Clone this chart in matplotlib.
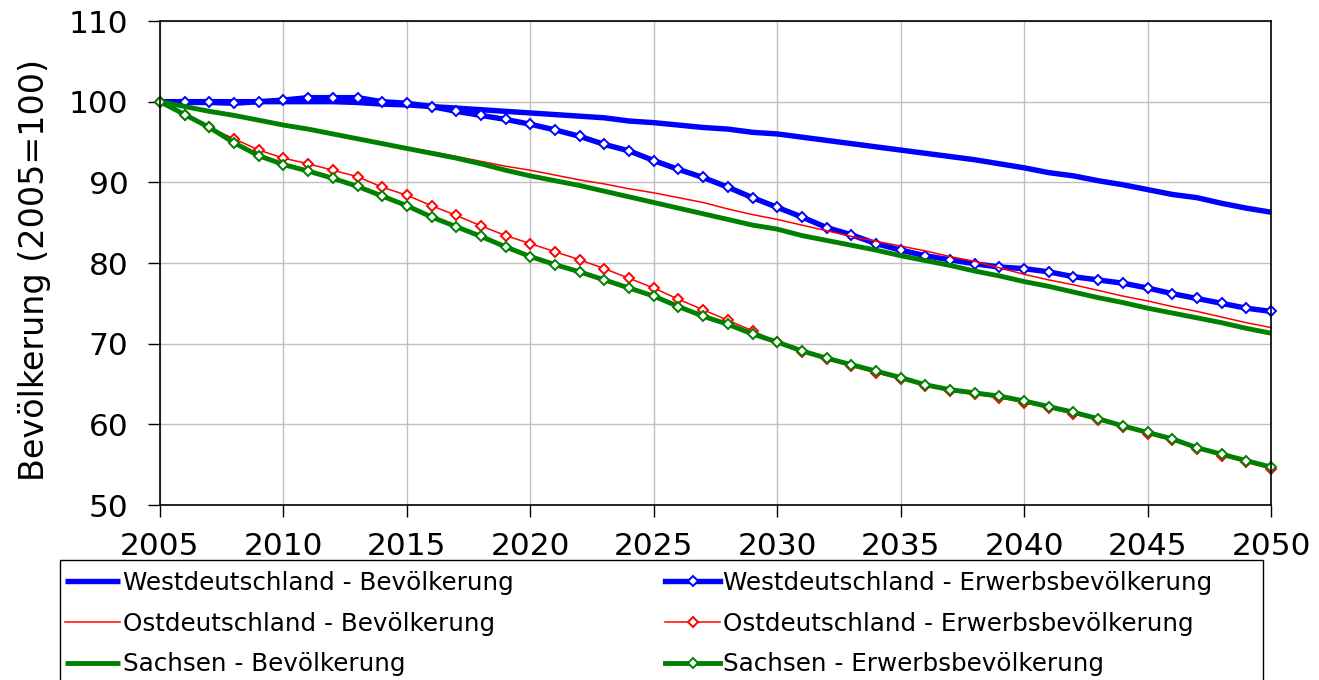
import matplotlib
matplotlib.use("Agg")
import matplotlib.pyplot as plt
from matplotlib.patches import Rectangle

plt.rcParams['font.family'] = ['DejaVu Sans']

years = list(range(2005, 2051))

west_bev = [100.0, 100.0, 100.0, 100.0, 100.0, 100.0, 100.0, 100.0, 99.9, 99.7,
            99.6, 99.4, 99.2, 99.0, 98.8, 98.6, 98.4, 98.2, 98.0, 97.6,
            97.4, 97.1, 96.8, 96.6, 96.2, 96.0, 95.6, 95.2, 94.8, 94.4,
            94.0, 93.6, 93.2, 92.8, 92.3, 91.8, 91.2, 90.8, 90.2, 89.7,
            89.1, 88.5, 88.1, 87.4, 86.8, 86.3]
west_erw = [100.0, 99.9, 99.9, 99.8, 100.0, 100.2, 100.5, 100.5, 100.5, 100.0,
            99.8, 99.4, 98.8, 98.3, 97.8, 97.2, 96.5, 95.7, 94.7, 93.9,
            92.7, 91.6, 90.6, 89.4, 88.1, 86.9, 85.7, 84.4, 83.5, 82.4,
            81.6, 80.9, 80.4, 79.9, 79.5, 79.3, 78.9, 78.3, 77.9, 77.5,
            76.9, 76.2, 75.6, 75.0, 74.4, 74.0]
ost_bev = [100.0, 99.4, 98.8, 98.2, 97.7, 97.1, 96.5, 95.9, 95.4, 94.8,
           94.3, 93.8, 93.2, 92.6, 92.0, 91.5, 90.9, 90.3, 89.8, 89.2,
           88.7, 88.1, 87.5, 86.7, 86.0, 85.4, 84.7, 84.0, 83.3, 82.7,
           82.1, 81.5, 80.8, 80.2, 79.4, 78.6, 77.9, 77.3, 76.6, 75.9,
           75.3, 74.6, 74.0, 73.3, 72.6, 72.0]
ost_erw = [100.0, 98.4, 96.8, 95.4, 94.0, 93.0, 92.3, 91.5, 90.7, 89.4,
           88.4, 87.1, 85.9, 84.6, 83.4, 82.4, 81.4, 80.4, 79.3, 78.1,
           76.9, 75.5, 74.2, 72.9, 71.6, 70.2, 69.0, 68.1, 67.2, 66.4,
           65.6, 64.8, 64.1, 63.7, 63.3, 62.7, 62.0, 61.3, 60.5, 59.7,
           58.8, 58.0, 57.0, 56.1, 55.3, 54.5]
sachsen_bev = [100.0, 99.4, 98.8, 98.3, 97.7, 97.1, 96.6, 96.0, 95.4, 94.8,
               94.2, 93.6, 93.0, 92.3, 91.5, 90.8, 90.2, 89.6, 88.9, 88.2,
               87.5, 86.8, 86.1, 85.4, 84.7, 84.2, 83.4, 82.8, 82.2, 81.6,
               80.9, 80.3, 79.7, 79.0, 78.4, 77.7, 77.1, 76.4, 75.7, 75.1,
               74.4, 73.8, 73.2, 72.6, 71.9, 71.3]
sachsen_erw = [100.0, 98.4, 96.8, 94.9, 93.3, 92.2, 91.4, 90.5, 89.5, 88.3,
               87.1, 85.7, 84.5, 83.3, 82.0, 80.8, 79.8, 78.9, 77.9, 76.9,
               75.9, 74.6, 73.4, 72.4, 71.2, 70.2, 69.1, 68.2, 67.4, 66.6,
               65.8, 64.9, 64.3, 63.9, 63.5, 62.9, 62.2, 61.5, 60.7, 59.8,
               59.0, 58.2, 57.1, 56.3, 55.5, 54.7]

labels = ["Westdeutschland - Bevölkerung",
          "Westdeutschland - Erwerbsbevölkerung",
          "Ostdeutschland - Bevölkerung",
          "Ostdeutschland - Erwerbsbevölkerung",
          "Sachsen - Bevölkerung",
          "Sachsen - Erwerbsbevölkerung"]

W, H = 1319, 680
fig = plt.figure(figsize=(W / 100, H / 100), dpi=100)
ax = fig.add_axes([160 / W, 1 - 505 / H, (1271 - 160) / W, (505 - 21) / H])

mk = dict(marker='D', markersize=5.6, markerfacecolor='white', markeredgewidth=1.4)

l1, = ax.plot(years, west_bev, color='#0000FF', lw=3.9, label=labels[0], solid_capstyle='butt')
l2, = ax.plot(years, west_erw, color='#0000FF', lw=3.9, markeredgecolor='#0000FF', label=labels[1], **mk)
l3, = ax.plot(years, ost_bev, color='#FF0000', lw=1.1, label=labels[2])
l4, = ax.plot(years, ost_erw, color='#FF0000', lw=1.1, markeredgecolor='#FF0000', label=labels[3], **mk)
l5, = ax.plot(years, sachsen_bev, color='#008000', lw=3.5, label=labels[4], solid_capstyle='butt')
l6, = ax.plot(years, sachsen_erw, color='#008000', lw=3.5, markeredgecolor='#008000', label=labels[5], **mk)

for l in (l1, l2, l3, l4, l5, l6):
    l.set_clip_on(False)

ax.set_xlim(2005, 2050)
ax.set_ylim(50, 110)
ax.set_xticks(range(2005, 2051, 5))
ax.set_yticks(range(50, 111, 10))
ax.grid(True, color='#c0c0c0', lw=1.0)
ax.set_axisbelow(True)
for s in ax.spines.values():
    s.set_linewidth(1.2)
    s.set_color('black')
ax.tick_params(axis='both', direction='out', length=8.6, width=1.0, labelsize=22.5)
ax.tick_params(axis='y', pad=14)
ax.tick_params(axis='x', pad=10.5)

ax.set_ylabel("Bevölkerung (2005=100)", fontsize=24)
ax.yaxis.set_label_coords((51 - 160) / 1111, 0.485)

# legend frame
fig.patches.append(Rectangle((60 / W, -0.05), (1263 - 60) / W, (1 - 560 / H) + 0.05,
                             transform=fig.transFigure, fill=False,
                             edgecolor='black', lw=1.0))

leg_kw = dict(loc='upper left', frameon=False, fontsize=17.7, borderpad=0,
              handlelength=2.25, handletextpad=0.12, labelspacing=0.68,
              borderaxespad=0)
fig.legend([l1, l3, l5], [labels[0], labels[2], labels[4]],
           bbox_to_anchor=(65 / W, 1 - 571 / H), **leg_kw)
fig.legend([l2, l4, l6], [labels[1], labels[3], labels[5]],
           bbox_to_anchor=(665 / W, 1 - 571 / H), **leg_kw)

fig.savefig("out.png", dpi=100)
